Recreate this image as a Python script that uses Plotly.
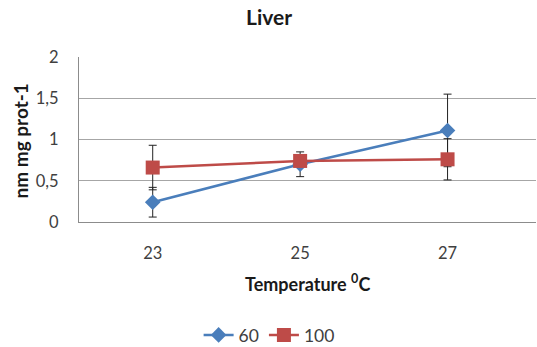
import plotly.graph_objects as go

temperatures = ["23", "25", "27"]
series_60 = [0.24, 0.70, 1.11]
error_60 = [0.18, 0.15, 0.44]
series_100 = [0.66, 0.74, 0.76]
error_100 = [0.27, 0.06, 0.25]
y_ticks = [0, 0.5, 1, 1.5, 2]

BLUE = "#4A7EBB"
RED = "#BE4B48"
FONT = "Lato, 'Open Sans', sans-serif"

fig = go.Figure()

fig.add_trace(go.Scatter(
    x=temperatures, y=series_60, name="60", mode="lines+markers",
    line=dict(color=BLUE, width=2.5),
    marker=dict(symbol="diamond", size=12, color=BLUE),
    error_y=dict(type="data", array=error_60, color="#222222", thickness=1, width=4),
))
fig.add_trace(go.Scatter(
    x=temperatures, y=series_100, name="100", mode="lines+markers",
    line=dict(color=RED, width=2.5),
    marker=dict(symbol="square", size=14, color=RED),
    error_y=dict(type="data", array=error_100, color="#222222", thickness=1, width=4),
))

# significance marker above the 27 °C error bar of series 60
fig.add_annotation(
    x=temperatures[2], y=series_60[2] + error_60[2], text="*", showarrow=False,
    yanchor="bottom", yshift=1, font=dict(size=16, color="#222222", family=FONT),
)

fig.add_annotation(
    x=0.5, y=1, xref="paper", yref="paper", text="<b>Liver</b>", showarrow=False,
    xanchor="center", yanchor="middle", yshift=41, xshift=-39,
    font=dict(size=21, color="#1a1a1a", family=FONT),
)
fig.add_annotation(
    x=0, y=0.5, xref="paper", yref="paper", text="<b>nm mg prot-1</b>", showarrow=False,
    textangle=-90, xanchor="center", yanchor="middle", xshift=-59, yshift=-2,
    font=dict(size=19, color="#1a1a1a", family=FONT),
)
fig.add_annotation(
    x=0.5, y=0, xref="paper", yref="paper", text="<b>Temperature <sup>0</sup>C</b>",
    showarrow=False, xanchor="center", yanchor="middle", yshift=-61, xshift=0,
    font=dict(size=18, color="#1a1a1a", family=FONT),
)

fig.update_layout(
    width=537, height=347,
    margin=dict(l=79, r=1, t=57, b=125, autoexpand=False),
    paper_bgcolor="white", plot_bgcolor="white",
    separators=",.",
    font=dict(family=FONT, size=16.5, color="#404040"),
    showlegend=True,
    legend=dict(
        orientation="h", x=0.416, y=-0.685, xanchor="center", yanchor="middle",
        font=dict(size=17.5, color="#404040"), itemwidth=30,
    ),
    xaxis=dict(
        type="category", range=[-0.5, 2.6], automargin=False,
        showgrid=False, showline=True, linecolor="#8c8c8c", linewidth=1,
        ticks="", ticklabelstandoff=16, zeroline=False,
    ),
    yaxis=dict(
        range=[0, 2], tickvals=y_ticks, automargin=False,
        showgrid=True, gridcolor="#a6a6a6", gridwidth=1,
        showline=True, linecolor="#8c8c8c", linewidth=1,
        ticks="", ticklabelstandoff=16, zeroline=False,
    ),
)

fig.write_html("out.html")
